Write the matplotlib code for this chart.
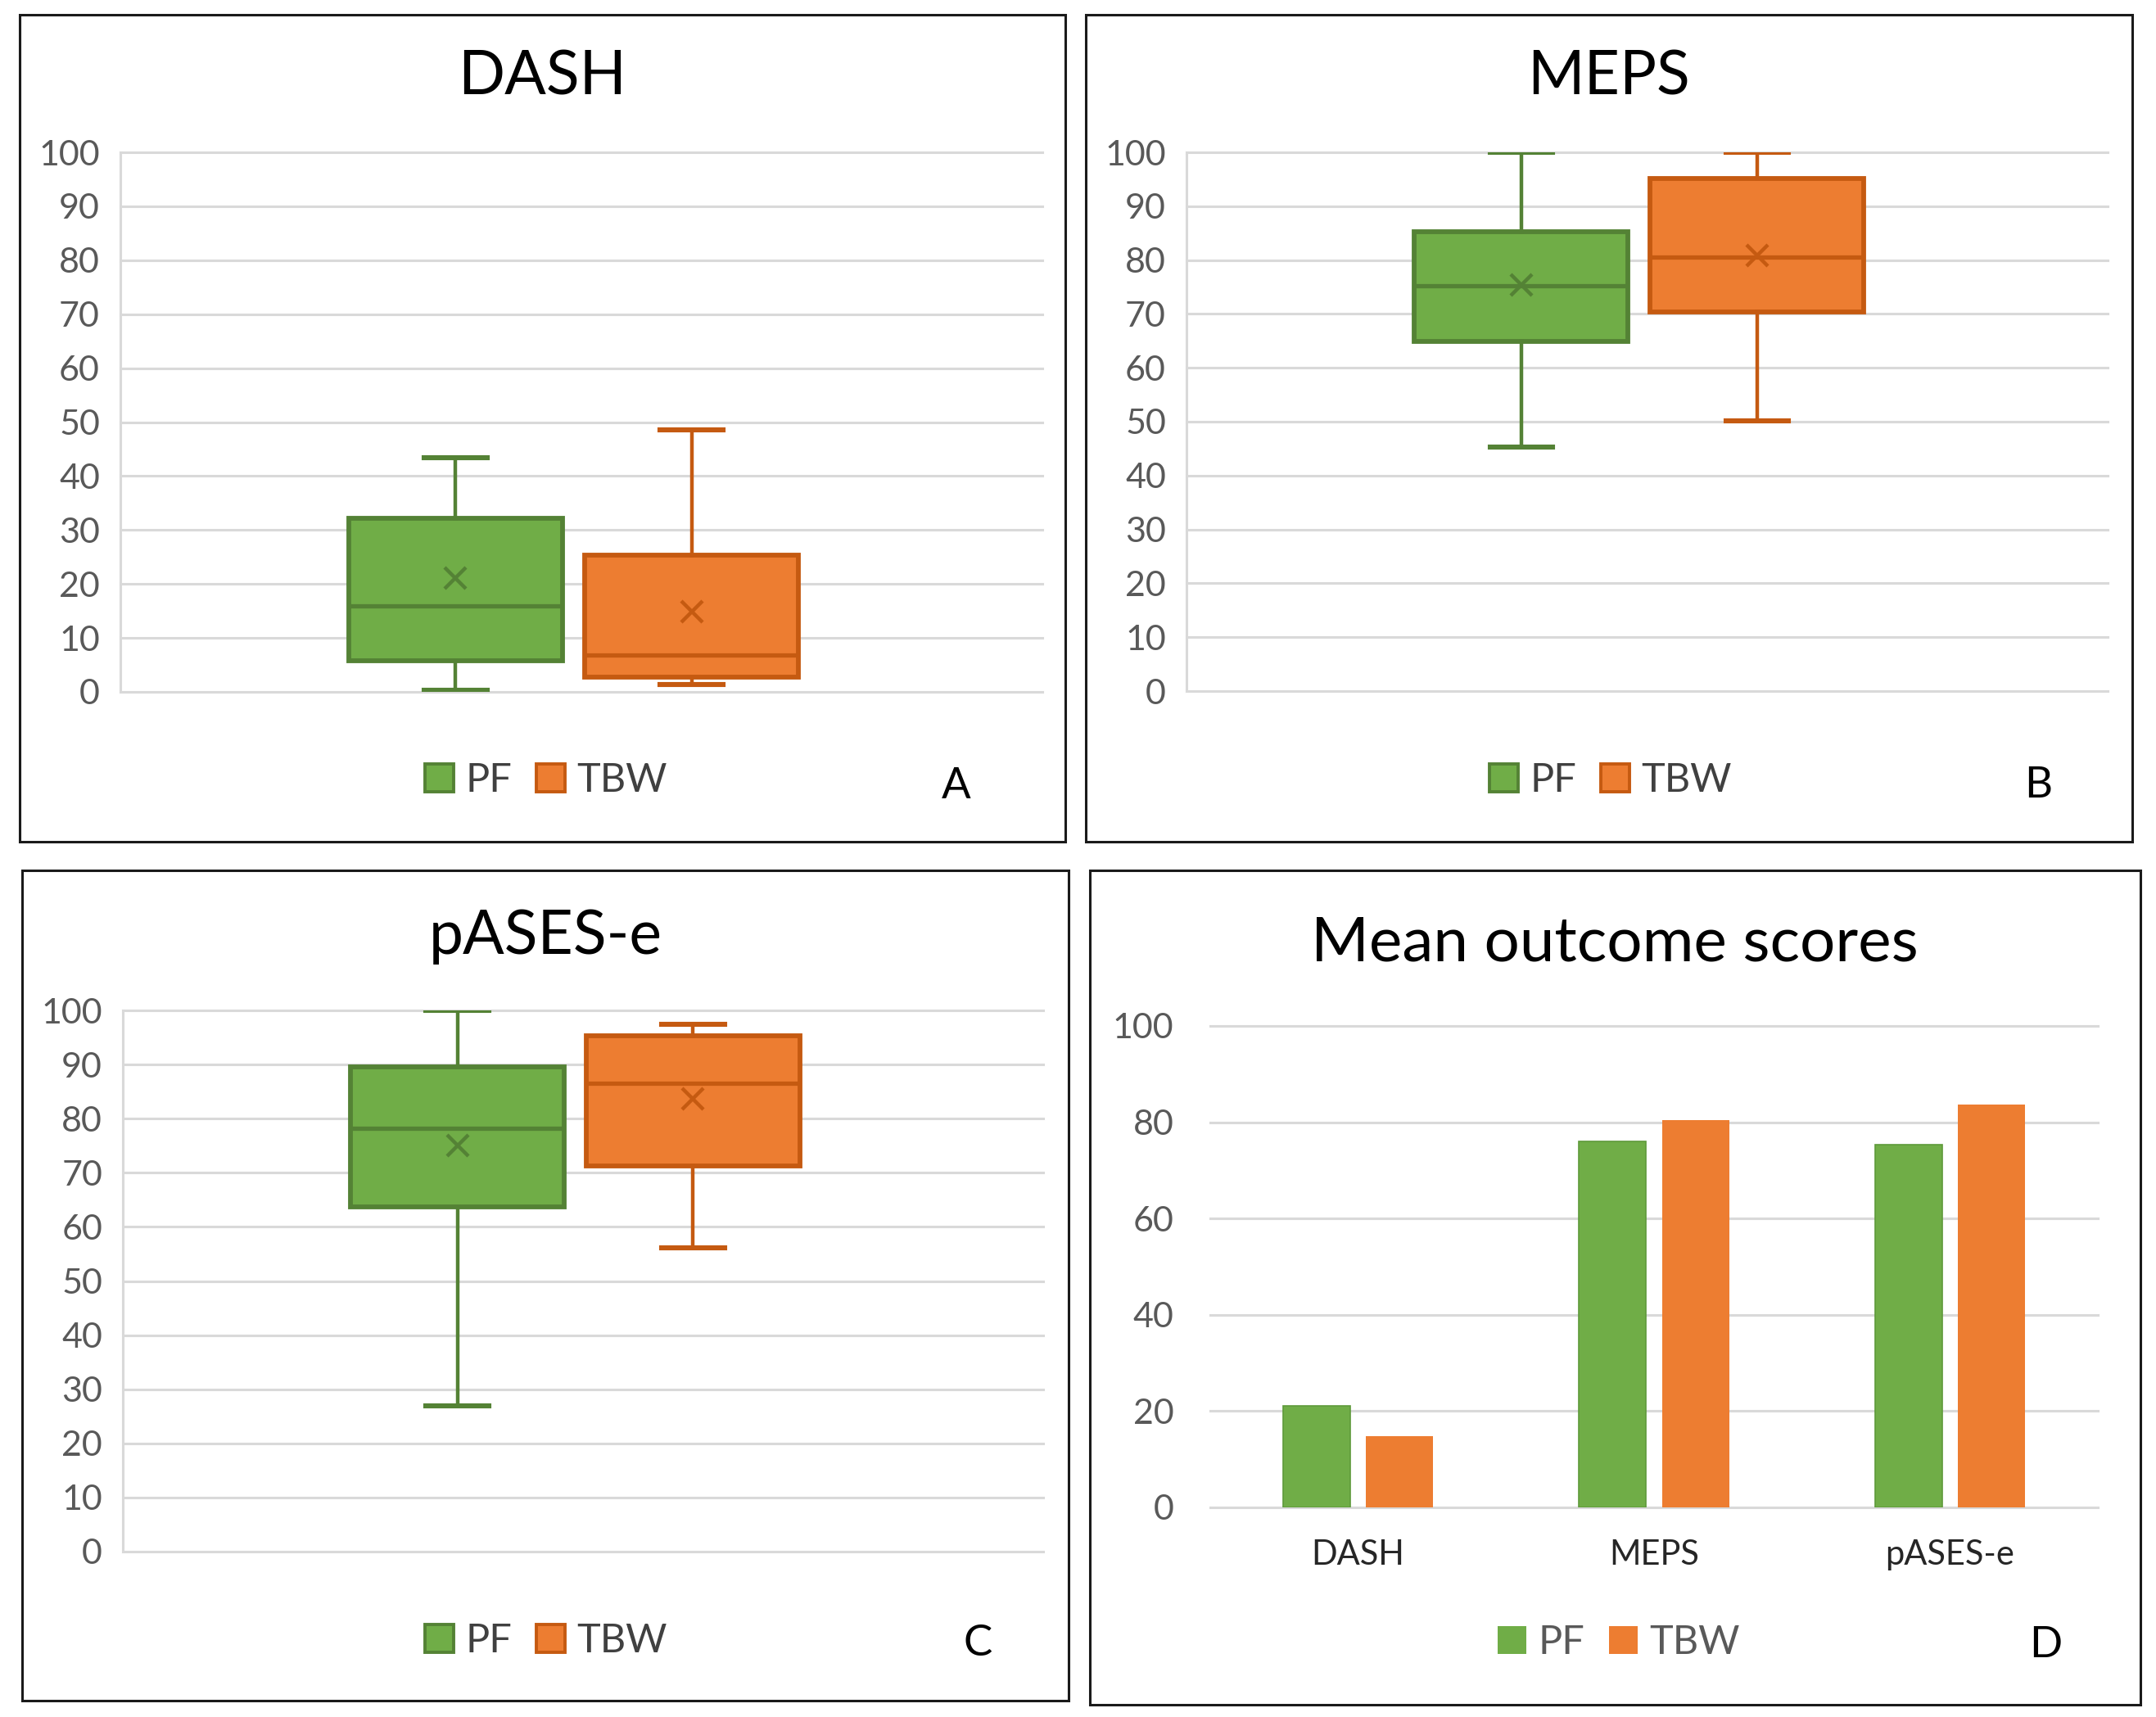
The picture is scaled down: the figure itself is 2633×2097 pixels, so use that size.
import matplotlib
matplotlib.use("Agg")
import matplotlib.pyplot as plt
from matplotlib.patches import Rectangle, Patch

plt.rcParams['font.family'] = ['Lato', 'DejaVu Sans']

# ---------------- data ----------------
groups = ["PF", "TBW"]
box_titles = ["DASH", "MEPS", "pASES-e"]
panel_letters = ["A", "B", "C", "D"]

# box statistics: [whisker low, Q1, median, Q3, whisker high, mean] for PF / TBW
dash_pf = [0.3, 5.7, 16.0, 32.2, 43.4, 21.1]
dash_tbw = [1.3, 2.7, 6.9, 25.4, 48.6, 14.8]
meps_pf = [45.3, 64.9, 75.2, 85.2, 100.0, 75.4]
meps_tbw = [50.1, 70.3, 80.5, 95.2, 100.0, 80.9]
pases_pf = [26.9, 63.7, 78.2, 89.5, 100.0, 75.1]
pases_tbw = [56.2, 71.2, 86.6, 95.3, 97.5, 83.7]

box_ticks = [0, 10, 20, 30, 40, 50, 60, 70, 80, 90, 100]

mean_categories = ["DASH", "MEPS", "pASES-e"]
mean_pf = [21.1, 76.0, 75.4]
mean_tbw = [14.8, 80.4, 83.6]
mean_ticks = [0, 20, 40, 60, 80, 100]

# ---------------- styling ----------------
W, H = 2633, 2097
DPI = 100
fill_cols = ["#70AD47", "#ED7D31"]
edge_cols = ["#548235", "#C55A11"]
grid_col = "#D9D9D9"
tick_col = "#595959"

fig = plt.figure(figsize=(W / DPI, H / DPI), dpi=DPI)
fig.patch.set_facecolor("white")


def fx(x):
    return x / W


def fy(y):
    return 1 - y / H


def add_axes(x0, x1, y0, y1):
    return fig.add_axes([fx(x0), fy(y1), (x1 - x0) / W, (y1 - y0) / H])


def border(x0, y0, x1, y1):
    fig.add_artist(Rectangle((fx(x0), fy(y1)), (x1 - x0) / W, (y1 - y0) / H,
                             transform=fig.transFigure, fill=False,
                             edgecolor="#1a1a1a", lw=2.2))


def stats(v, label):
    return dict(whislo=v[0], q1=v[1], med=v[2], q3=v[3], whishi=v[4],
                mean=v[5], label=label, fliers=[])


box_data = [(dash_pf, dash_tbw), (meps_pf, meps_tbw), (pases_pf, pases_tbw)]

panels = [
    dict(border=(23.5, 18.5, 1301, 1028), plot=(147, 1273, 186, 845),
         title=(662, 116), legend=(667, 953), letter=(1168, 975)),
    dict(border=(1326, 18.5, 2604, 1028), plot=(1449, 2574, 186, 844),
         title=(1965, 116), legend=(1967, 953), letter=(2489, 974)),
    dict(border=(27, 1063, 1305, 2077), plot=(150, 1274, 1234, 1895),
         title=(666, 1165), legend=(667, 2004), letter=(1194, 2022)),
    dict(border=(1331, 1063, 2614, 2082), plot=(1478, 2562, 1253, 1841),
         title=(1972, 1173), legend=(1977, 2006), letter=(2498, 2024)),
]

group_center = 0.4915
group_offset = 0.128
box_width = 0.232

TITLE_FS = 54
TICK_FS = 31
LEG_FS = 35
LETTER_FS = 38

for i in range(3):
    p = panels[i]
    border(*p["border"])
    x0, x1, y0, y1 = p["plot"]
    ax = add_axes(x0, x1, y0, y1)
    ax.set_xlim(0, 1)
    ax.set_ylim(0, 100)
    for k, (vals, g) in enumerate(zip(box_data[i], groups)):
        pos = group_center + (k * 2 - 1) * group_offset
        ax.bxp([stats(vals, g)], positions=[pos], widths=box_width,
               patch_artist=True, showmeans=True, showfliers=False,
               boxprops=dict(facecolor=fill_cols[k], edgecolor=edge_cols[k], linewidth=4.2),
               medianprops=dict(color=edge_cols[k], linewidth=3.8),
               whiskerprops=dict(color=edge_cols[k], linewidth=3.2),
               capprops=dict(color=edge_cols[k], linewidth=4.4),
               capwidths=0.068,
               meanprops=dict(marker="x", markersize=19, markeredgecolor=edge_cols[k],
                              markeredgewidth=3.2, markerfacecolor="none"),
               zorder=3)
    ax.set_yticks(box_ticks)
    ax.set_xticks([])
    ax.grid(axis="y", color=grid_col, linewidth=2.2, zorder=0)
    for gl in ax.get_ygridlines():
        gl.set_clip_on(False)
    ax.set_axisbelow(True)
    for s in ["top", "right", "bottom"]:
        ax.spines[s].set_visible(False)
    ax.spines["left"].set_color(grid_col)
    ax.spines["left"].set_linewidth(2.2)
    ax.tick_params(axis="y", length=0, pad=18, labelsize=TICK_FS, labelcolor=tick_col)
    ax.set_facecolor("none")

    fig.text(fx(p["title"][0]), fy(p["title"][1]), box_titles[i], ha="center",
             va="baseline", fontsize=TITLE_FS, color="black")
    handles = [Patch(facecolor=fill_cols[k], edgecolor=edge_cols[k], linewidth=2.8)
               for k in range(2)]
    fig.legend(handles, groups, loc="center",
               bbox_to_anchor=(fx(p["legend"][0]), fy(p["legend"][1])),
               ncol=2, frameon=False, fontsize=LEG_FS, labelcolor="#404040",
               handlelength=0.72, handleheight=0.72, handletextpad=0.3,
               columnspacing=0.6)
    fig.text(fx(p["letter"][0]), fy(p["letter"][1]), panel_letters[i], ha="center",
             va="baseline", fontsize=LETTER_FS, color="black")

# ---------------- panel D: mean bars ----------------
p = panels[3]
border(*p["border"])
x0, x1, y0, y1 = p["plot"]
ax = add_axes(x0, x1, y0, y1)
xs = list(range(len(mean_categories)))
bar_w = 0.227
bar_off = 0.14
ax.bar([x - bar_off for x in xs], mean_pf, width=bar_w, color=fill_cols[0],
       edgecolor="#5E9A3A", linewidth=1.2, zorder=3, label=groups[0])
ax.bar([x + bar_off for x in xs], mean_tbw, width=bar_w, color=fill_cols[1],
       edgecolor="none", zorder=3, label=groups[1])
ax.set_xlim(-0.5, len(mean_categories) - 0.5)
ax.set_ylim(0, 100)
ax.set_yticks(mean_ticks)
ax.set_xticks(xs)
ax.set_xticklabels(mean_categories)
ax.grid(axis="y", color=grid_col, linewidth=2.2, zorder=0)
for gl in ax.get_ygridlines():
    gl.set_clip_on(False)
ax.set_axisbelow(True)
for s in ["top", "right", "bottom", "left"]:
    ax.spines[s].set_visible(False)
ax.tick_params(axis="y", length=0, pad=32, labelsize=TICK_FS, labelcolor=tick_col)
ax.tick_params(axis="x", length=0, pad=28, labelsize=30, labelcolor="#262626")
ax.set_facecolor("none")
fig.text(fx(p["title"][0]), fy(p["title"][1]), "Mean outcome scores", ha="center",
         va="baseline", fontsize=TITLE_FS + 1, color="black")
handles = [Patch(facecolor=fill_cols[k], edgecolor="none") for k in range(2)]
fig.legend(handles, groups, loc="center",
           bbox_to_anchor=(fx(p["legend"][0]), fy(p["legend"][1])),
           ncol=2, frameon=False, fontsize=LEG_FS, labelcolor="#595959",
           handlelength=0.72, handleheight=0.72, handletextpad=0.3,
           columnspacing=0.6)
fig.text(fx(p["letter"][0]), fy(p["letter"][1]), panel_letters[3], ha="center",
         va="baseline", fontsize=LETTER_FS, color="black")

fig.savefig("out.png", dpi=DPI, facecolor="white")
